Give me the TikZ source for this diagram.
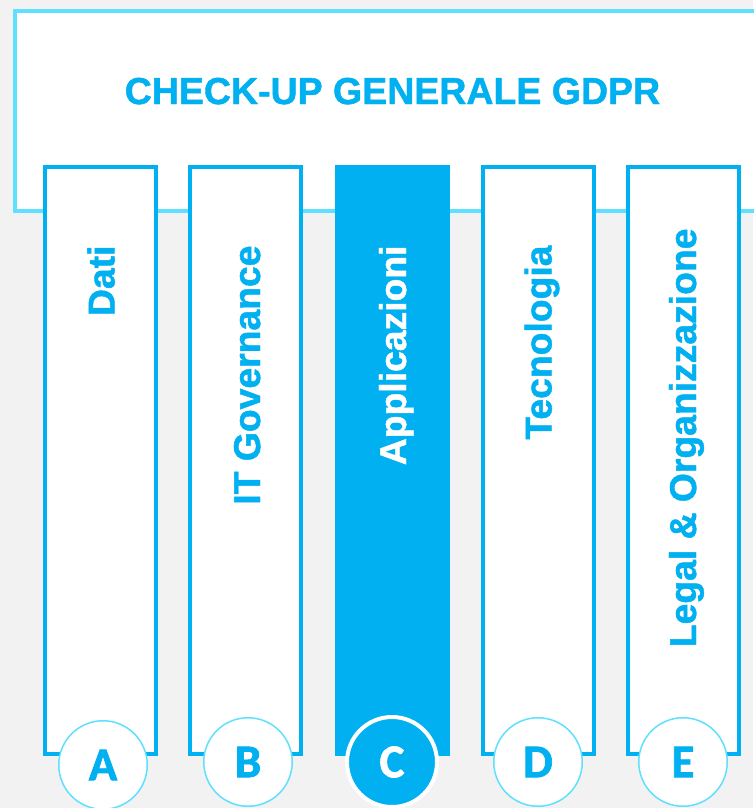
\documentclass[tikz,border=0pt]{standalone}
\usepackage{fontspec}
\setmainfont{Liberation Sans}[BoldFont={Liberation Sans Bold}]
\newfontfamily\headfont{Liberation Sans Bold}[FakeBold=1.2]
\newfontfamily\badgefont{Carlito Bold}[FakeBold=1.5]
\usepackage{xcolor}
\usetikzlibrary{positioning}

\definecolor{gdprblue}{HTML}{00B0F0}
\definecolor{gdprlight}{HTML}{5FE0FF}
\definecolor{bggray}{HTML}{F2F2F2}

\begin{document}
\begin{tikzpicture}[
    x=1pt, y=-1pt,
    header/.style={rectangle, draw=gdprlight, fill=white, line width=4pt, minimum width=785pt, minimum height=200.5pt},
    pillar/.style={rectangle, draw=gdprblue, fill=white, line width=4pt, minimum width=111pt, minimum height=587pt},
    active/.style={pillar, fill=gdprblue},
    pillartext/.style={rotate=90, anchor=base east, text=gdprblue, font=\headfont\fontsize{37.3}{44}\selectfont},
    badge/.style={circle, draw=gdprlight, fill=white, line width=1.5pt, minimum size=88.5pt, text=gdprblue, font=\badgefont\fontsize{47}{56}\selectfont},
    activebadge/.style={badge, draw=white, fill=gdprblue, line width=4pt, minimum size=90pt, text=white}
]
    \useasboundingbox[fill=bggray] (0,0) rectangle (753,808);

    \node[header] (head) at (407.7,111.2) {};
    \node[text=gdprblue, font=\headfont\fontsize{37.5}{44}\selectfont, anchor=base] (title) at (392.5,104) {CHECK-UP GENERALE GDPR};

    \node[pillar] (colA) at (100.5,460.5) {};
    \node[pillar] (colB) at (245.5,460.5) {};
    \node[active] (colC) at (392,460.5) {};
    \node[pillar] (colD) at (538,460.5) {};
    \node[pillar] (colE) at (683,460.5) {};

    \node[pillartext] (txtA) at (114.5,242) {Dati};
    \node[pillartext] (txtB) at (260,242) {IT Governance};
    \node[pillartext, text=white] (txtC) at (406,242) {Applicazioni};
    \node[pillartext] (txtD) at (551.5,242) {Tecnologia};
    \node[pillartext] (txtE) at (696,225) {Legal \& Organizzazione};

    \node[badge] (bA) at (103,765) {A};
    \node[badge] (bB) at (248,762) {B};
    \node[activebadge] (bC) at (392,762) {C};
    \node[badge] (bD) at (538,762) {D};
    \node[badge] (bE) at (683,762) {E};
\end{tikzpicture}
\end{document}
